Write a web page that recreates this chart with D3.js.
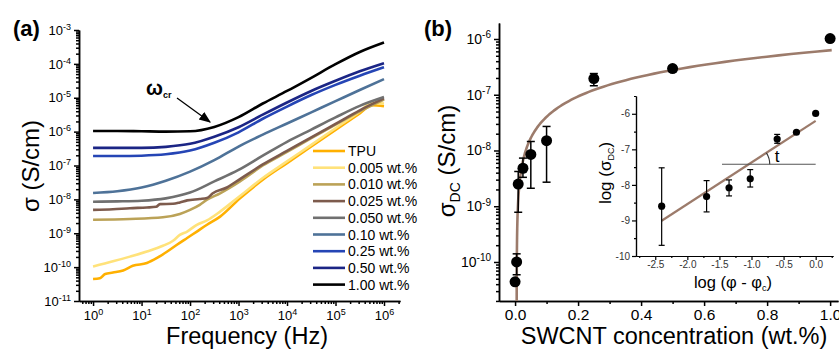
<!DOCTYPE html>
<html lang="en">
<head>
<meta charset="utf-8">
<title>Conductivity of TPU/SWCNT composites</title>
<script src="https://cdn.jsdelivr.net/npm/d3@7"></script>
<style>
  body { margin: 0; background: #fff; }
  svg { display: block; font-family: "Liberation Sans", Arial, sans-serif; }
  .axis path, .axis line { stroke: #000; stroke-width: 1.5; }
  .axis text { fill: #000; font-family: "Liberation Sans", Arial, sans-serif; }
  .inset path, .inset line { stroke: #000; stroke-width: 1.2; }
  .inset text { fill: #333; font-family: "Liberation Sans", Arial, sans-serif; }
</style>
</head>
<body>
<svg width="839" height="349"></svg>
<script>
// ---------- (a) AC conductivity vs frequency (log10 values) ----------
const seriesNames = ["TPU", "0.005 wt.%", "0.010 wt.%", "0.025 wt.%", "0.050 wt.%",
                     "0.10 wt.%", "0.25 wt.%", "0.50 wt.%", "1.00 wt.%"];
const seriesColors = ["#ffb000", "#ffe27a", "#bba257", "#7d5b4d", "#707070",
                      "#4e7298", "#2545b5", "#1b2585", "#000000"];

// shared log10(f) grid for the smooth curves
const freqExp = [0, 0.5, 1, 1.5, 2, 2.5, 3, 3.5, 4, 4.5, 5, 5.5, 6];
const sig1_00 = [-5.98, -5.98, -5.99, -6.0, -5.99, -5.86, -5.57, -5.17, -4.8, -4.41, -4.01, -3.65, -3.37];
const sig0_50 = [-6.48, -6.48, -6.48, -6.45, -6.36, -6.15, -5.87, -5.5, -5.14, -4.8, -4.5, -4.22, -3.98];
const sig0_25 = [-6.72, -6.72, -6.71, -6.67, -6.56, -6.33, -6.02, -5.62, -5.26, -4.92, -4.62, -4.35, -4.1];
const sig0_10 = [-7.81, -7.76, -7.65, -7.45, -7.18, -6.84, -6.44, -6.09, -5.76, -5.43, -5.1, -4.77, -4.45];
const sig0_050 = [-8.07, -8.06, -8.04, -7.97, -7.8, -7.47, -7.13, -6.71, -6.3, -5.94, -5.58, -5.24, -4.98];

// noisier curves keep their own grids
const freq0_025 = [0, 0.41, 0.76, 1.11, 1.3, 1.38, 1.65, 1.79, 1.94, 2.2, 2.35, 2.47, 2.76, 3.03, 3.5, 4, 4.5, 5, 5.5, 6];
const sig0_025 = [-8.31, -8.29, -8.26, -8.24, -8.22, -8.14, -8.13, -8.09, -8.03, -7.99, -7.96, -7.82, -7.65, -7.4, -6.97, -6.57, -6.17, -5.77, -5.37, -5.02];
const freq0_010 = [0, 0.76, 1.44, 1.79, 2, 2.2, 2.35, 2.62, 3.03, 3.5, 4, 4.5, 5, 5.5, 6];
const sig0_010 = [-8.6, -8.58, -8.53, -8.43, -8.31, -8.16, -8.01, -7.82, -7.47, -7.0, -6.6, -6.19, -5.79, -5.4, -5.05];
const freq0_005 = [0, 0.41, 0.76, 1.11, 1.44, 1.65, 1.79, 1.94, 2.14, 2.35, 2.62, 3.03, 3.5, 4, 4.5, 5, 5.5, 5.75, 6];
const sig0_005 = [-9.98, -9.83, -9.69, -9.54, -9.37, -9.22, -9.05, -8.95, -8.75, -8.62, -8.36, -7.9, -7.37, -6.88, -6.39, -5.9, -5.41, -5.15, -5.17];
const freqTPU = [0, 0.14, 0.25, 0.41, 0.62, 0.82, 1.11, 1.32, 1.53, 1.73, 1.94, 2.14, 2.35, 2.62, 3.03, 3.5, 4, 4.5, 5, 5.5, 5.75, 6];
const sigTPU = [-10.35, -10.33, -10.2, -10.16, -10.1, -9.96, -9.88, -9.73, -9.54, -9.34, -9.14, -8.95, -8.75, -8.51, -7.97, -7.42, -6.93, -6.44, -5.95, -5.46, -5.22, -5.25];

const seriesFreq = [freqTPU, freq0_005, freq0_010, freq0_025, freqExp, freqExp, freqExp, freqExp, freqExp];
const seriesSig = [sigTPU, sig0_005, sig0_010, sig0_025, sig0_050, sig0_10, sig0_25, sig0_50, sig1_00];

// ---------- (b) DC conductivity vs SWCNT loading ----------
const conc = [0, 0.005, 0.01, 0.025, 0.05, 0.10, 0.25, 0.50, 1.00];
const sigmaDC = [4.4e-11, 1.0e-10, 2.5e-9, 4.8e-9, 8.5e-9, 1.5e-8, 1.95e-7, 2.95e-7, 1.02e-6];
const sigmaLo = [null, 5.9e-11, 7.8e-10, 3.3e-9, 2.1e-9, 2.7e-9, 1.45e-7, 2.6e-7, null];
const sigmaHi = [null, 1.4e-10, 4.2e-9, 7.3e-9, 1.45e-8, 2.7e-8, 2.4e-7, 3.3e-7, null];
// percolation fit  sigma = sigma0 * (phi - phiC)^t
const phiC = 0.005, tExp = 1.17, logSigma0 = -6.2;

// inset: log-log plot
const logPhi = [-2.4, -1.7, -1.35, -1.02, -0.6, -0.3, 0.0];
const logSig = [-8.6, -8.33, -8.08, -7.83, -6.71, -6.52, -5.99];
const logSigLo = [-9.7, -8.76, -8.31, -8.06, -6.83, null, null];
const logSigHi = [-7.52, -7.88, -7.86, -7.57, -6.58, null, null];
const fitRange = [-2.4, 0.0];
const refLevel = -7.42, refRange = [-1.46, 0.0];

const svg = d3.select("svg");

function supLabels(sel, size) {
  sel.selectAll(".tick text").each(function(d) {
    const e = Math.round(Math.log10(d));
    const t = d3.select(this).text("10");
    t.append("tspan").attr("dy", "-0.55em").attr("font-size", size).text(e);
  });
}

// ================= panel (a) =================
const xA = d3.scaleLog().domain([Math.pow(10, -0.29), Math.pow(10, 6.33)]).range([79, 400]);
const yA = d3.scaleLog().domain([1e-11, 1e-3]).range([301, 30]);
// minor ticks = everything that is not a power of ten
const minorOf = a => a.filter(v => Math.abs(Math.log10(v) - Math.round(Math.log10(v))) > 1e-6);

const yMajA = d3.range(-11, -2).map(e => Math.pow(10, e));
const xMajA = d3.range(0, 7).map(e => Math.pow(10, e));

svg.append("g").attr("class", "axis").attr("transform", "translate(79,0)")
  .call(d3.axisLeft(yA).tickValues(minorOf(yA.ticks())).tickSize(3).tickSizeOuter(0).tickFormat(""));
const gyA = svg.append("g").attr("class", "axis").attr("transform", "translate(79,0)")
  .call(d3.axisLeft(yA).tickValues(yMajA).tickSize(5).tickSizeOuter(0).tickPadding(3));
gyA.attr("font-size", 13);
supLabels(gyA, "9px");

svg.append("g").attr("class", "axis").attr("transform", "translate(0,301)")
  .call(d3.axisBottom(xA).tickValues(minorOf(xA.ticks())).tickSize(3).tickSizeOuter(0).tickFormat(""));
const gxA = svg.append("g").attr("class", "axis").attr("transform", "translate(0,301)")
  .call(d3.axisBottom(xA).tickValues(xMajA).tickSize(5).tickSizeOuter(0).tickPadding(5));
gxA.attr("font-size", 13);
supLabels(gxA, "9px");

const lineA = d3.line()
  .x(d => xA(Math.pow(10, d[0])))
  .y(d => yA(Math.pow(10, d[1])))
  .curve(d3.curveMonotoneX);

seriesNames.forEach((name, i) => {
  const pts = seriesFreq[i].map((f, j) => [f, seriesSig[i][j]]);
  svg.append("path").datum(pts)
    .attr("d", lineA)
    .attr("fill", "none")
    .attr("stroke", seriesColors[i])
    .attr("stroke-width", 2.6)
    .attr("stroke-linejoin", "round");
});

// legend
const leg = svg.append("g").attr("transform", "translate(313,151)");
seriesNames.forEach((name, i) => {
  const row = leg.append("g").attr("transform", "translate(0," + (i * 16.7) + ")");
  row.append("line").attr("x1", 0).attr("x2", 32).attr("y1", 0).attr("y2", 0)
    .attr("stroke", seriesColors[i]).attr("stroke-width", 2.6);
  row.append("text").attr("x", 35).attr("dy", "0.36em").attr("font-size", 14).text(name);
});

// omega_cr annotation
svg.append("defs").append("marker")
  .attr("id", "arrow").attr("viewBox", "0 0 10 10").attr("refX", 9).attr("refY", 5)
  .attr("markerWidth", 9).attr("markerHeight", 9).attr("orient", "auto")
  .append("path").attr("d", "M0,1 L10,5 L0,9 Z").attr("fill", "#000");
svg.append("line").attr("x1", 177).attr("y1", 98).attr("x2", 210).attr("y2", 122)
  .attr("stroke", "#000").attr("stroke-width", 1.3).attr("marker-end", "url(#arrow)");
const om = svg.append("text").attr("x", 146).attr("y", 95).attr("font-size", 20).attr("font-weight", "bold").text("ω");
om.append("tspan").attr("font-size", 9).attr("dy", 3).text("cr");

// titles (a)
svg.append("text").attr("x", 13).attr("y", 36).attr("font-size", 22).attr("font-weight", "bold").text("(a)");
svg.append("text").attr("text-anchor", "middle").attr("transform", "translate(39,166) rotate(-90)")
  .attr("font-size", 24).text("σ (S/cm)");
svg.append("text").attr("x", 247).attr("y", 344).attr("text-anchor", "middle")
  .attr("font-size", 23.5).text("Frequency (Hz)");

// ================= panel (b) =================
const xB = d3.scaleLinear().domain([-0.051, 1.025]).range([499, 838]);
const yB = d3.scaleLog().domain([Math.pow(10, -10.7), Math.pow(10, -5.713)]).range([301, 23]);
const yMajB = d3.range(-10, -5).map(e => Math.pow(10, e));

svg.append("g").attr("class", "axis").attr("transform", "translate(499,0)")
  .call(d3.axisLeft(yB).tickValues(minorOf(yB.ticks())).tickSize(3).tickSizeOuter(0).tickFormat(""));
const gyB = svg.append("g").attr("class", "axis").attr("transform", "translate(499,0)")
  .call(d3.axisLeft(yB).tickValues(yMajB).tickSize(5).tickSizeOuter(0).tickPadding(3));
gyB.attr("font-size", 14);
supLabels(gyB, "10px");

svg.append("g").attr("class", "axis").attr("transform", "translate(0,301)")
  .call(d3.axisBottom(xB).tickValues([0.1, 0.3, 0.5, 0.7, 0.9]).tickSize(3).tickSizeOuter(0).tickFormat(""));
svg.append("g").attr("class", "axis").attr("transform", "translate(0,301)")
  .call(d3.axisBottom(xB).tickValues([0, 0.2, 0.4, 0.6, 0.8, 1.0]).tickSize(5).tickSizeOuter(0)
    .tickPadding(3).tickFormat(d => d.toFixed(1)))
  .attr("font-size", 15.5);

// fit curve
svg.append("clipPath").attr("id", "clipB").append("rect")
  .attr("x", 499).attr("y", 23).attr("width", 340).attr("height", 278);
const fitPts = d3.range(-4.6, Math.log10(1.025 - phiC), 0.02)
  .map(k => [phiC + Math.pow(10, k), Math.pow(10, logSigma0 + tExp * k)]);
svg.append("path").datum(fitPts)
  .attr("clip-path", "url(#clipB)")
  .attr("d", d3.line().x(d => xB(d[0])).y(d => yB(d[1])))
  .attr("fill", "none").attr("stroke", "#9c7b6b").attr("stroke-width", 2.6);

// error bars + points
const mainPts = conc.map((c, i) => ({c: c, s: sigmaDC[i], lo: sigmaLo[i], hi: sigmaHi[i]}));
const eb = svg.append("g").attr("stroke", "#000").attr("stroke-width", 1.5);
mainPts.filter(d => d.lo !== null).forEach(d => {
  eb.append("line").attr("x1", xB(d.c)).attr("x2", xB(d.c)).attr("y1", yB(d.lo)).attr("y2", yB(d.hi));
  [d.lo, d.hi].forEach(v => eb.append("line")
    .attr("x1", xB(d.c) - 4).attr("x2", xB(d.c) + 4).attr("y1", yB(v)).attr("y2", yB(v)));
});
svg.append("g").selectAll("circle").data(mainPts).join("circle")
  .attr("cx", d => xB(d.c)).attr("cy", d => yB(d.s)).attr("r", 5.5).attr("fill", "#000");

// titles (b)
svg.append("text").attr("x", 424).attr("y", 36).attr("font-size", 22).attr("font-weight", "bold").text("(b)");
const ty = svg.append("text").attr("text-anchor", "middle").attr("transform", "translate(455,161) rotate(-90)")
  .attr("font-size", 24).text("σ");
ty.append("tspan").attr("font-size", 14).attr("dy", 5).text("DC");
ty.append("tspan").attr("dy", -5).text(" (S/cm)");
svg.append("text").attr("x", 674).attr("y", 344).attr("text-anchor", "middle")
  .attr("font-size", 23.5).text("SWCNT concentration (wt.%)");

// ================= inset =================
const xI = d3.scaleLinear().domain([-2.8, 0.27]).range([636, 833]);
const yI = d3.scaleLinear().domain([-10, -5.5]).range([256, 96]);

svg.append("g").attr("class", "inset").attr("transform", "translate(636,0)")
  .call(d3.axisLeft(yI).tickValues([-9.5, -8.5, -7.5, -6.5, -5.5]).tickSize(2).tickSizeOuter(0).tickFormat(""));
svg.append("g").attr("class", "inset").attr("transform", "translate(636,0)")
  .call(d3.axisLeft(yI).tickValues([-10, -9, -8, -7, -6]).tickSize(4).tickSizeOuter(0).tickPadding(2)
    .tickFormat(d => String(d)))
  .attr("font-size", 10);
svg.append("g").attr("class", "inset").attr("transform", "translate(0,256)")
  .call(d3.axisBottom(xI).tickValues([-2.75, -2.25, -1.75, -1.25, -0.75, -0.25, 0.25]).tickSize(2).tickSizeOuter(0).tickFormat(""));
svg.append("g").attr("class", "inset").attr("transform", "translate(0,256)")
  .call(d3.axisBottom(xI).tickValues([-2.5, -2.0, -1.5, -1.0, -0.5, 0.0]).tickSize(4).tickSizeOuter(0).tickPadding(1)
    .tickFormat(d => d.toFixed(1)))
  .attr("font-size", 10);

// fit line and reference level
svg.append("line")
  .attr("x1", xI(fitRange[0])).attr("y1", yI(logSigma0 + tExp * fitRange[0]))
  .attr("x2", xI(fitRange[1])).attr("y2", yI(logSigma0 + tExp * fitRange[1]))
  .attr("stroke", "#9c7b6b").attr("stroke-width", 2.2);
svg.append("line")
  .attr("x1", xI(refRange[0])).attr("x2", xI(refRange[1]))
  .attr("y1", yI(refLevel)).attr("y2", yI(refLevel))
  .attr("stroke", "#555").attr("stroke-width", 1.2);

// slope angle arc
const cx0 = xI((refLevel - logSigma0) / tExp), cy0 = yI(refLevel);
const ang = Math.atan2(yI(refLevel) - yI(refLevel + tExp), xI(1) - xI(0));
const rr = 21;
svg.append("path")
  .attr("d", "M" + (cx0 + rr) + "," + cy0 + " A" + rr + "," + rr + " 0 0 0 " +
    (cx0 + rr * Math.cos(ang)) + "," + (cy0 - rr * Math.sin(ang)))
  .attr("fill", "none").attr("stroke", "#333").attr("stroke-width", 1.1);
svg.append("text").attr("x", cx0 + rr + 5).attr("y", cy0 - 2).attr("font-size", 17).text("t");

const insetPts = logPhi.map((x, i) => ({x: x, y: logSig[i], lo: logSigLo[i], hi: logSigHi[i]}));
const ebI = svg.append("g").attr("stroke", "#000").attr("stroke-width", 1.2);
insetPts.filter(d => d.lo !== null).forEach(d => {
  ebI.append("line").attr("x1", xI(d.x)).attr("x2", xI(d.x)).attr("y1", yI(d.lo)).attr("y2", yI(d.hi));
  [d.lo, d.hi].forEach(v => ebI.append("line")
    .attr("x1", xI(d.x) - 3).attr("x2", xI(d.x) + 3).attr("y1", yI(v)).attr("y2", yI(v)));
});
svg.append("g").selectAll("circle").data(insetPts).join("circle")
  .attr("cx", d => xI(d.x)).attr("cy", d => yI(d.y)).attr("r", 3.6).attr("fill", "#000");

// inset titles
const tyI = svg.append("text").attr("text-anchor", "middle").attr("transform", "translate(611,173) rotate(-90)")
  .attr("font-size", 17).text("log (σ");
tyI.append("tspan").attr("font-size", 9).attr("dy", 3).text("DC");
tyI.append("tspan").attr("dy", -3).text(")");
const txI = svg.append("text").attr("x", 733).attr("y", 288).attr("text-anchor", "middle")
  .attr("font-size", 16.5).text("log (φ - φ");
txI.append("tspan").attr("font-size", 9).attr("dy", 3).text("c");
txI.append("tspan").attr("dy", -3).text(")");
</script>
</body>
</html>
